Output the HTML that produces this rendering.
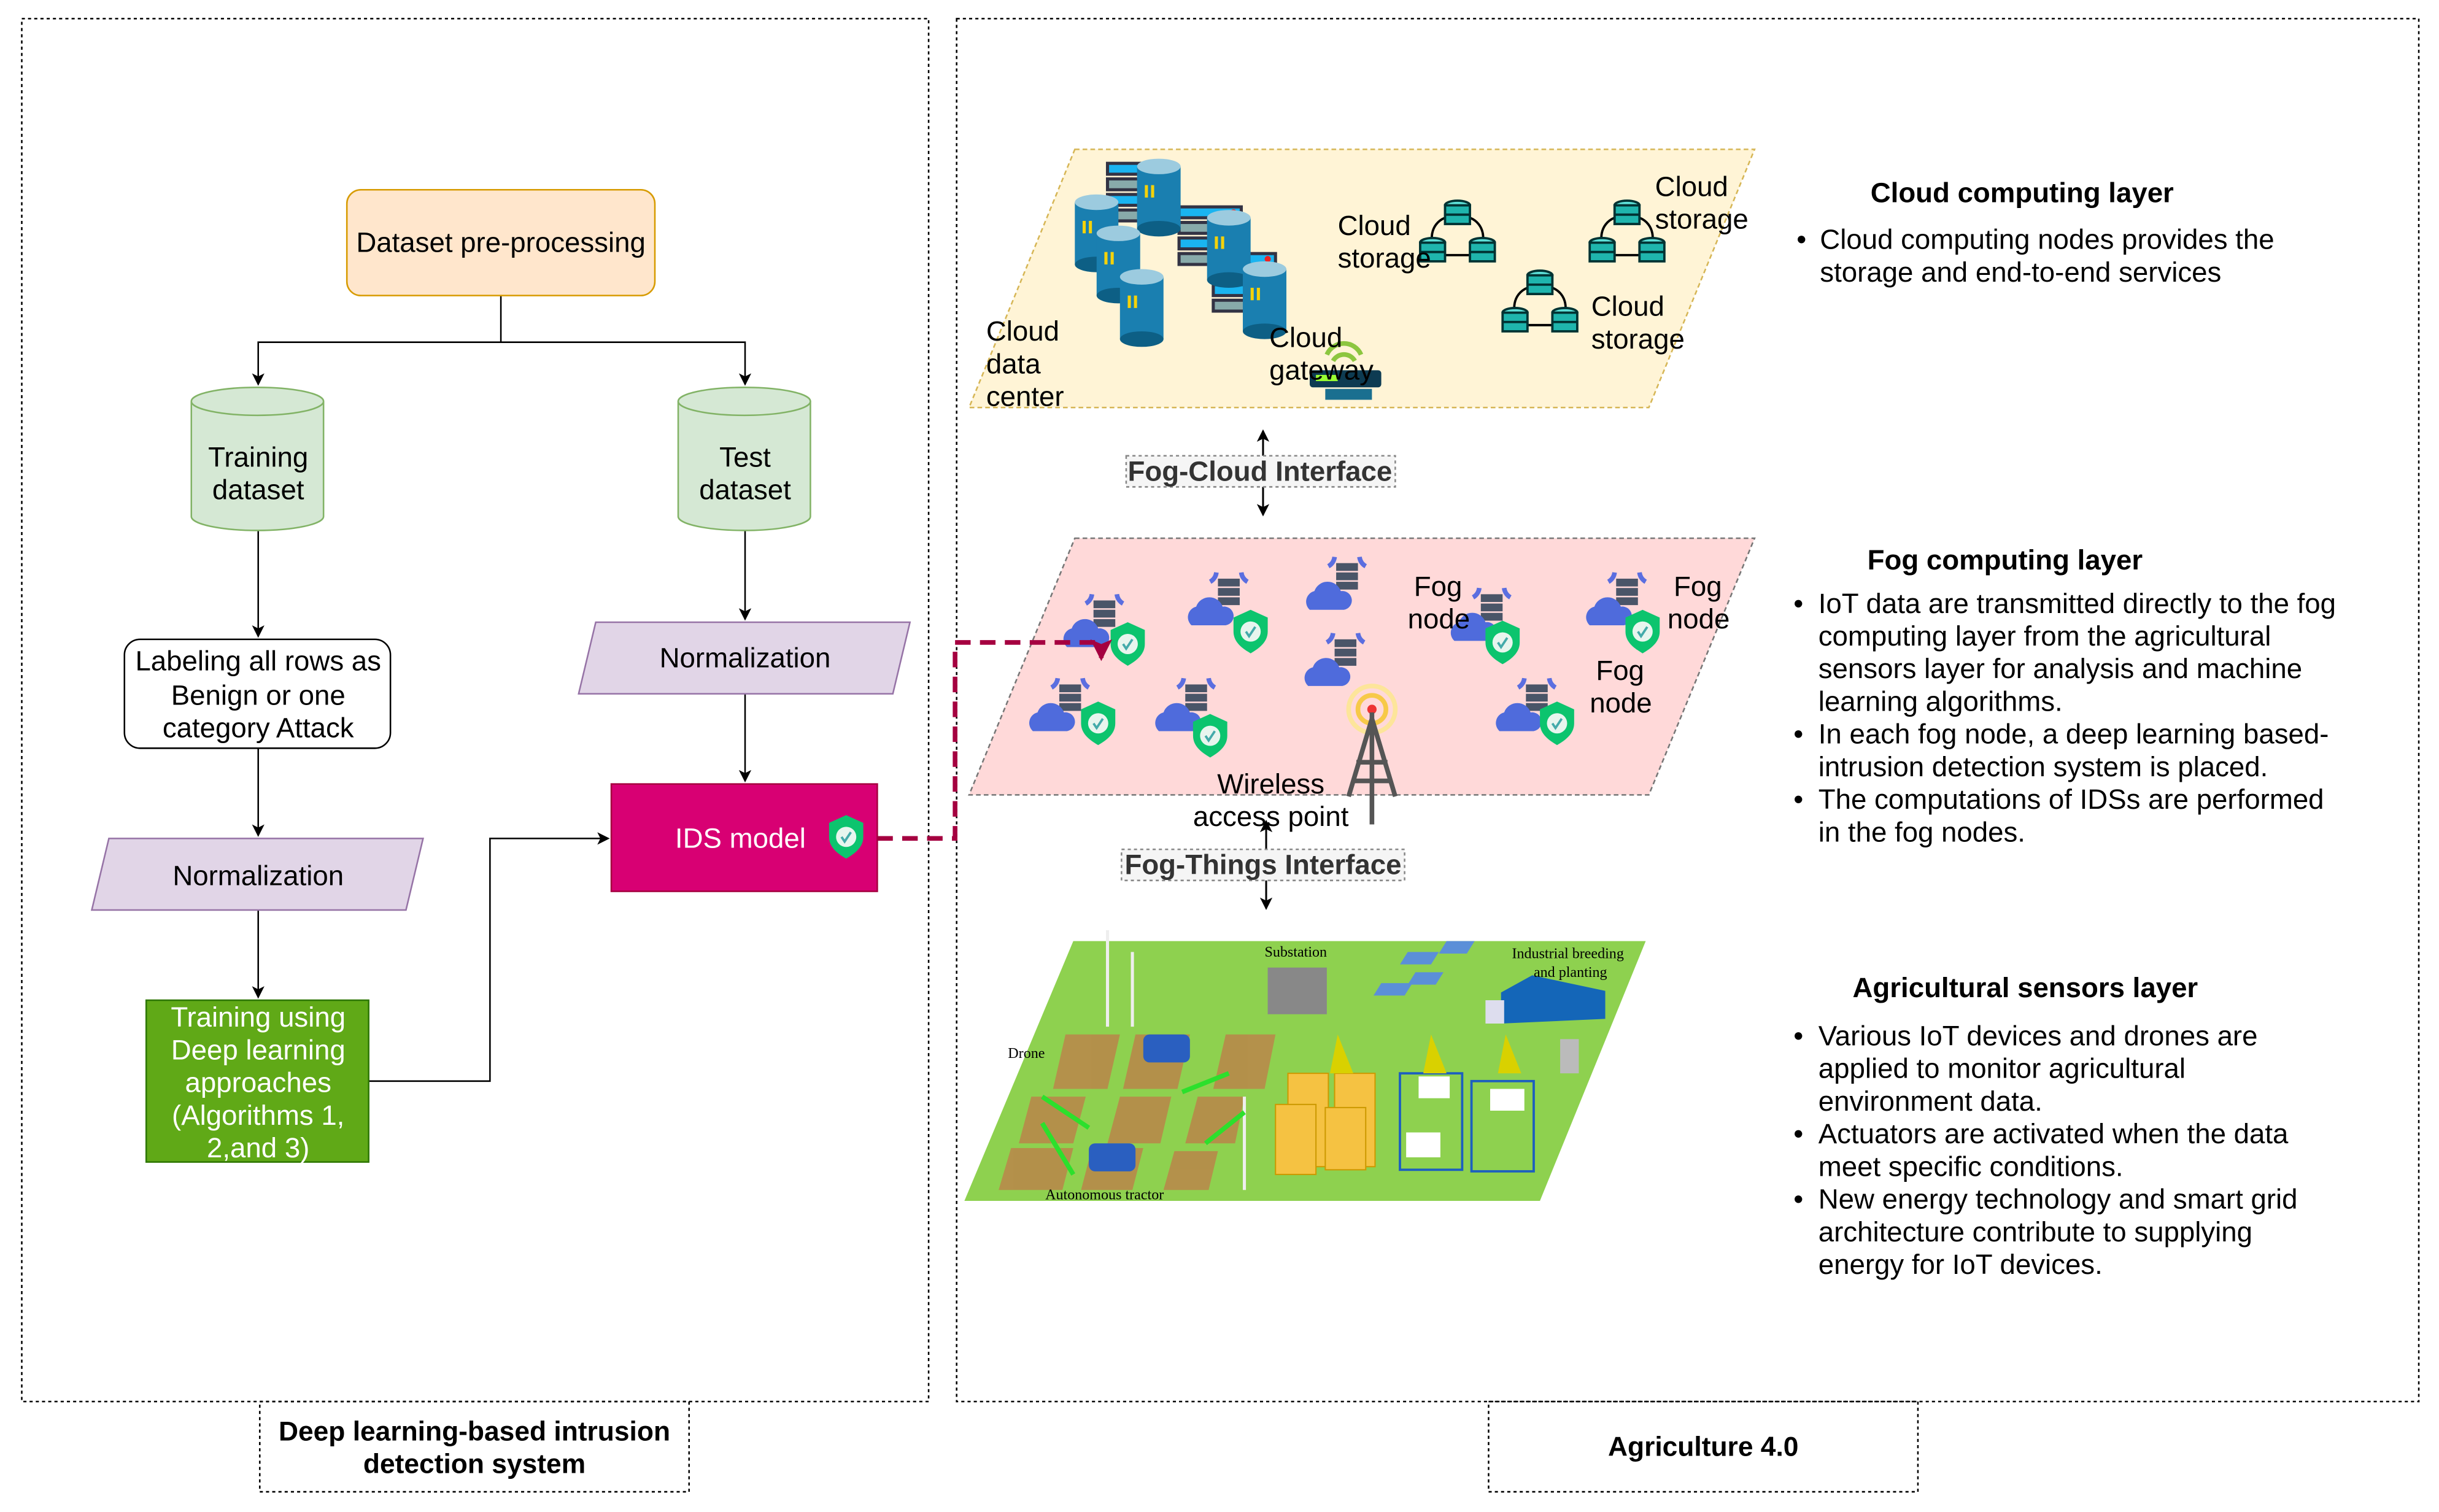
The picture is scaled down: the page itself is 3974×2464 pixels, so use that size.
<!DOCTYPE html>
<html><head><meta charset="utf-8"><style>html,body{margin:0;padding:0;background:#fff}svg{display:block}</style></head>
<body>
<svg width="3974" height="2464" viewBox="0 0 1568 972" preserveAspectRatio="none" xmlns="http://www.w3.org/2000/svg" font-family="Liberation Sans, sans-serif">
<defs>
<marker id="ar" markerWidth="8" markerHeight="8" refX="7" refY="4" orient="auto" markerUnits="userSpaceOnUse"><path d="M0,0 L8,4 L0,8 L2,4 z" fill="#000"/></marker>
<marker id="ar2" markerWidth="14" markerHeight="14" refX="12" refY="7" orient="auto" markerUnits="userSpaceOnUse"><path d="M0,0 L14,7 L0,14 L3,7 z" fill="#a50040"/></marker>
<g id="shield"><path d="M0,-13 L11,-8 L11,1 C11,8 5,12 0,15 C-5,12 -11,8 -11,1 L-11,-8 Z" fill="#0cc46e"/><circle cx="0" cy="1" r="6.5" fill="#e8f5ee"/><path d="M-3,1 L-1,4 L3,-2" stroke="#4aa" stroke-width="1.5" fill="none"/></g>
<g id="fog"><path d="M-8,-26 a8,8 0 0 1 -4,6 M8,-26 a8,8 0 0 0 4,6" stroke="#5b6ee0" stroke-width="3" fill="none"/><rect x="-7" y="-22" width="14" height="5" fill="#4a5568"/><rect x="-7" y="-16" width="14" height="5" fill="#4a5568"/><rect x="-7" y="-10" width="14" height="5" fill="#4a5568"/><path d="M-24,8 a7,7 0 0 1 3,-12 a9,9 0 0 1 17,0 a6,6 0 0 1 2,12 z" fill="#4f6bdc"/></g>
<g id="db"><ellipse cx="0" cy="-6" rx="8" ry="3" fill="#5ee0d8" stroke="#033" stroke-width="1.5"/><rect x="-8" y="-6" width="16" height="12" fill="#1fb5ad" stroke="#033" stroke-width="1.5"/><line x1="-8" y1="0" x2="8" y2="0" stroke="#033" stroke-width="1.5"/></g>
<g id="stor"><path d="M-8,-10 C-18,-6 -18,6 -14,10 M8,-10 C18,-6 18,6 14,10 M-8,14 L8,14" stroke="#000" stroke-width="1.5" fill="none"/><use href="#db" x="0" y="-12"/><use href="#db" x="-16" y="12"/><use href="#db" x="16" y="12"/></g>
<g id="cyl"><rect x="-14" y="-20" width="28" height="40" fill="#1a7fb0"/><ellipse cx="0" cy="-20" rx="14" ry="5" fill="#9ccbdf"/><ellipse cx="0" cy="20" rx="14" ry="5" fill="#0d5f85"/><rect x="-9" y="-8" width="2" height="8" fill="#f5d20a"/><rect x="-5" y="-8" width="2" height="8" fill="#f5d20a"/></g>
<g id="rack"><rect x="0" y="0" width="40" height="7" fill="#1ab4f0" stroke="#334" stroke-width="2"/><rect x="0" y="10" width="40" height="7" fill="#8aa" stroke="#334" stroke-width="2"/><rect x="0" y="20" width="40" height="7" fill="#1ab4f0" stroke="#334" stroke-width="2"/><rect x="0" y="30" width="40" height="7" fill="#8aa" stroke="#334" stroke-width="2"/><circle cx="35" cy="3.5" r="2" fill="#e22"/></g>
</defs>

<!-- panels -->
<rect x="14" y="12" width="583" height="889" fill="none" stroke="#000" stroke-width="1" stroke-dasharray="2,2"/>
<rect x="615" y="12" width="940" height="889" fill="none" stroke="#000" stroke-width="1" stroke-dasharray="2,2"/>
<rect x="167" y="901" width="276" height="58" fill="none" stroke="#000" stroke-width="1" stroke-dasharray="2,2"/>
<rect x="957" y="901" width="276" height="58" fill="none" stroke="#000" stroke-width="1" stroke-dasharray="2,2"/>
<g font-weight="bold" font-size="17.5" text-anchor="middle" fill="#000">
<text x="305" y="926">Deep learning-based intrusion</text><text x="305" y="947">detection system</text>
<text x="1095" y="936">Agriculture 4.0</text></g>

<!-- left flowchart -->
<g stroke="#000" stroke-width="1" fill="none">
<path d="M322,190 V220 H166 V247" marker-end="url(#ar)"/>
<path d="M322,220 H479 V247" marker-end="url(#ar)"/>
<path d="M166,341 V409" marker-end="url(#ar)"/>
<path d="M166,481 V537" marker-end="url(#ar)"/>
<path d="M166,585 V641" marker-end="url(#ar)"/>
<path d="M479,341 V398" marker-end="url(#ar)"/>
<path d="M479,446 V502" marker-end="url(#ar)"/>
<path d="M237,695 H315 V539 H391" marker-end="url(#ar)"/>
</g>
<rect x="223" y="122" width="198" height="68" rx="9" fill="#ffe6cc" stroke="#d79b00"/>
<g fill="#d5e8d4" stroke="#82b366">
<path d="M123,258 V332 A42.5,9 0 0 0 208,332 V258"/><ellipse cx="165.5" cy="258" rx="42.5" ry="9"/>
<path d="M436,258 V332 A42.5,9 0 0 0 521,332 V258"/><ellipse cx="478.5" cy="258" rx="42.5" ry="9"/>
</g>
<rect x="80" y="411" width="171" height="70" rx="10" fill="#fff" stroke="#000"/>
<polygon points="70,539 272,539 261,585 59,585" fill="#e1d5e7" stroke="#9673a6"/>
<polygon points="383,400 585,400 574,446 372,446" fill="#e1d5e7" stroke="#9673a6"/>
<rect x="94" y="643" width="143" height="104" fill="#60a917" stroke="#2d7600"/>
<rect x="393" y="504" width="171" height="69" fill="#d80073" stroke="#a50040"/>
<use href="#shield" x="544" y="537"/>
<g font-size="18" text-anchor="middle" fill="#000">
<text x="322" y="162">Dataset pre-processing</text>
<text x="166" y="300">Training</text><text x="166" y="321">dataset</text>
<text x="479" y="300">Test</text><text x="479" y="321">dataset</text>
<text x="166" y="431">Labeling all rows as</text><text x="166" y="453">Benign or one</text><text x="166" y="474">category Attack</text>
<text x="166" y="569">Normalization</text><text x="479" y="429">Normalization</text>
<g fill="#fff"><text x="166" y="660">Training using</text><text x="166" y="681">Deep learning</text><text x="166" y="702">approaches</text><text x="166" y="723">(Algorithms 1,</text><text x="166" y="744">2,and 3)</text>
<text x="476" y="545">IDS model</text></g>
</g>

<!-- layers -->
<polygon points="691,96 1128,96 1060,262 623,262" fill="#fff4d6" stroke="#d6b656" stroke-dasharray="3,2"/>
<polygon points="691,346 1128,346 1060,511 623,511" fill="#ffd9d9" stroke="#777" stroke-dasharray="3,2"/>
<polygon points="690,605 1058,605 990,772 620,772" fill="#8ed14f"/>

<!-- cloud icons -->
<use href="#rack" x="712" y="105"/><use href="#rack" x="758" y="133"/><use href="#rack" x="780" y="163"/>
<use href="#cyl" x="745" y="127"/><use href="#cyl" x="705" y="150"/><use href="#cyl" x="719" y="170"/><use href="#cyl" x="734" y="198"/><use href="#cyl" x="790" y="160"/><use href="#cyl" x="813" y="193"/>
<use href="#stor" x="937" y="150"/><use href="#stor" x="1046" y="150"/><use href="#stor" x="990" y="195"/>
<path d="M853,228 a12,12 0 0 1 22,0 M857,232 a8,8 0 0 1 14,0" stroke="#8cc63f" stroke-width="3" fill="none"/>
<rect x="842" y="238" width="46" height="11" rx="2" fill="#0d3b52"/><rect x="846" y="241" width="14" height="4" fill="#9f3"/><rect x="852" y="250" width="30" height="7" fill="#1a6f90"/>
<g font-size="18" fill="#000">
<text x="634" y="219">Cloud</text><text x="634" y="240">data</text><text x="634" y="261">center</text>
<text x="860" y="151">Cloud</text><text x="860" y="172">storage</text>
<text x="1064" y="126">Cloud</text><text x="1064" y="147">storage</text>
<text x="1023" y="203">Cloud</text><text x="1023" y="224">storage</text>
<text x="816" y="223">Cloud</text><text x="816" y="244">gateway</text>
</g>

<!-- fog icons -->
<use href="#fog" x="710" y="408"/><use href="#shield" x="725" y="413"/>
<use href="#fog" x="790" y="394"/><use href="#shield" x="804" y="405"/>
<use href="#fog" x="866" y="384"/>
<use href="#fog" x="959" y="404"/><use href="#shield" x="966" y="412"/>
<use href="#fog" x="1046" y="394"/><use href="#shield" x="1056" y="405"/>
<use href="#fog" x="688" y="462"/><use href="#shield" x="706" y="464"/>
<use href="#fog" x="769" y="462"/><use href="#shield" x="778" y="472"/>
<use href="#fog" x="865" y="433"/>
<use href="#fog" x="988" y="462"/><use href="#shield" x="1001" y="464"/>
<circle cx="882" cy="456" r="15" fill="none" stroke="#fde59a" stroke-width="3"/><circle cx="882" cy="456" r="9" fill="none" stroke="#f7c948" stroke-width="3"/><circle cx="882" cy="456" r="3" fill="#e33"/>
<path d="M882,458 V530 M882,462 L867,512 M882,462 L897,512 M872,490 L892,490 M869,502 L895,502" stroke="#555" stroke-width="3" fill="none"/>
<g font-size="18" fill="#000">
<text x="909" y="383">Fog</text><text x="905" y="404">node</text>
<text x="1076" y="383">Fog</text><text x="1072" y="404">node</text>
<text x="1026" y="437">Fog</text><text x="1022" y="458">node</text>
<text x="817" y="510" text-anchor="middle">Wireless</text><text x="817" y="531" text-anchor="middle">access point</text>
</g>

<!-- interfaces -->
<g stroke="#000" stroke-width="1.2">
<line x1="812" y1="293" x2="812" y2="277" marker-end="url(#ar)"/><line x1="812" y1="313" x2="812" y2="331" marker-end="url(#ar)"/>
<line x1="814" y1="546" x2="814" y2="528" marker-end="url(#ar)"/><line x1="814" y1="566" x2="814" y2="584" marker-end="url(#ar)"/>
</g>
<rect x="724" y="293" width="173" height="20" fill="#f5f5f5" stroke="#888" stroke-dasharray="2,2"/>
<rect x="721" y="546" width="182" height="20" fill="#f5f5f5" stroke="#888" stroke-dasharray="2,2"/>
<g font-size="18" font-weight="bold" fill="#333" text-anchor="middle"><text x="810" y="309">Fog-Cloud Interface</text><text x="812" y="562">Fog-Things Interface</text></g>

<!-- agriculture illustration -->
<g fill="#b88a4a" opacity="0.9">
<polygon points="685,665 720,665 712,700 677,700"/><polygon points="730,665 765,665 757,700 722,700"/><polygon points="788,665 820,665 813,700 780,700"/>
<polygon points="663,705 698,705 690,735 655,735"/><polygon points="720,705 753,705 746,735 712,735"/><polygon points="770,705 800,705 794,735 762,735"/>
<polygon points="650,738 690,738 683,765 642,765"/><polygon points="702,738 735,738 728,765 695,765"/><polygon points="755,740 783,740 777,765 748,765"/>
</g>
<g fill="#f5c242" stroke="#c90" stroke-width="0.8">
<rect x="828" y="690" width="26" height="60"/><rect x="858" y="690" width="26" height="60"/><rect x="820" y="710" width="26" height="45"/><rect x="852" y="712" width="26" height="40"/>
</g>
<rect x="900" y="690" width="40" height="62" fill="none" stroke="#1d5fbf" stroke-width="1.5"/><rect x="946" y="695" width="40" height="58" fill="none" stroke="#1d5fbf" stroke-width="1.5"/>
<rect x="912" y="692" width="20" height="14" fill="#fff"/><rect x="904" y="728" width="22" height="16" fill="#fff"/><rect x="958" y="700" width="22" height="14" fill="#fff"/>
<polygon points="965,638 985,627 1032,637 1032,655 965,658" fill="#1466b8"/><rect x="955" y="643" width="12" height="15" fill="#dde"/>
<rect x="815" y="622" width="38" height="30" fill="#888"/>
<g fill="#5b8fd8"><polygon points="905,612 925,612 920,620 900,620"/><polygon points="930,605 948,605 943,613 925,613"/><polygon points="888,632 908,632 903,640 883,640"/><polygon points="910,625 928,625 923,633 905,633"/></g>
<g stroke="#eee" stroke-width="2"><line x1="712" y1="598" x2="712" y2="660"/><line x1="728" y1="612" x2="728" y2="660"/><line x1="800" y1="705" x2="800" y2="765"/></g>
<g fill="#2a5fc0"><rect x="735" y="665" width="30" height="18" rx="4"/><rect x="700" y="735" width="30" height="18" rx="4"/></g>
<g fill="#d9d100"><polygon points="860,665 870,690 855,690"/><polygon points="920,665 930,690 915,690"/><polygon points="968,665 978,690 963,690"/></g>
<rect x="1003" y="668" width="12" height="22" fill="#bbb"/>
<g fill="#000" font-family="Liberation Serif, serif" font-size="9.5"><text x="813" y="615">Substation</text><text x="972" y="616">Industrial breeding</text><text x="986" y="628">and planting</text><text x="648" y="680">Drone</text><text x="672" y="771">Autonomous tractor</text></g>
<g stroke="#2ce02c" stroke-width="3"><line x1="670" y1="705" x2="700" y2="725"/><line x1="670" y1="722" x2="690" y2="755"/><line x1="790" y1="690" x2="760" y2="702"/><line x1="800" y1="715" x2="775" y2="735"/></g>

<!-- dashed connector on top -->
<path d="M564,539 H614 V413 H708 V423" fill="none" stroke="#a50040" stroke-width="3" stroke-dasharray="10,6" marker-end="url(#ar2)"/>

<!-- right text -->
<g font-size="18" fill="#000">
<text x="1300" y="130" font-weight="bold" text-anchor="middle">Cloud computing layer</text>
<text x="1155" y="160">•</text><text x="1170" y="160">Cloud computing nodes provides the</text><text x="1170" y="181">storage and end-to-end services</text>
<text x="1289" y="366" font-weight="bold" text-anchor="middle">Fog computing layer</text>
<text x="1153" y="394">•</text><text x="1169" y="394">IoT data are transmitted directly to the fog</text>
<text x="1169" y="415">computing layer from the agricultural</text><text x="1169" y="436">sensors layer for analysis and machine</text><text x="1169" y="457">learning algorithms.</text>
<text x="1153" y="478">•</text><text x="1169" y="478">In each fog node, a deep learning based-</text><text x="1169" y="499">intrusion detection system is placed.</text>
<text x="1153" y="520">•</text><text x="1169" y="520">The computations of IDSs are performed</text><text x="1169" y="541">in the fog nodes.</text>
<text x="1302" y="641" font-weight="bold" text-anchor="middle">Agricultural sensors layer</text>
<text x="1153" y="672">•</text><text x="1169" y="672">Various IoT devices and drones are</text><text x="1169" y="693">applied to monitor agricultural</text><text x="1169" y="714">environment data.</text>
<text x="1153" y="735">•</text><text x="1169" y="735">Actuators are activated when the data</text><text x="1169" y="756">meet specific conditions.</text>
<text x="1153" y="777">•</text><text x="1169" y="777">New energy technology and smart grid</text><text x="1169" y="798">architecture contribute to supplying</text><text x="1169" y="819">energy for IoT devices.</text>
</g>
</svg>
</body></html>
